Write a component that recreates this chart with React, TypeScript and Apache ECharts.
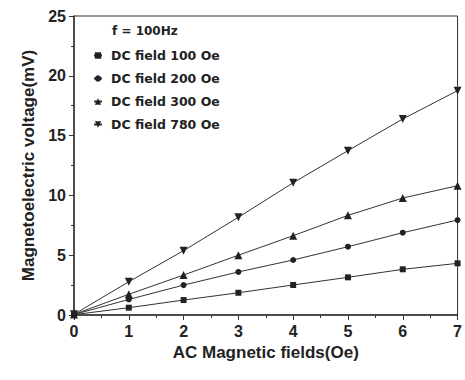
import React, { useEffect, useRef } from "react";
import * as echarts from "echarts";

const xValues = [0, 1, 2, 3, 4, 5, 6, 7];
const dc100 = [0.03, 0.61, 1.25, 1.86, 2.51, 3.15, 3.82, 4.32];
const dc200 = [0.04, 1.3, 2.5, 3.6, 4.6, 5.71, 6.88, 7.94];
const dc300 = [0.05, 1.73, 3.34, 5.0, 6.63, 8.33, 9.78, 10.81];
const dc780 = [0.06, 2.78, 5.38, 8.17, 11.06, 13.74, 16.39, 18.76];
const seriesNames = ["DC field 100 Oe", "DC field 200 Oe", "DC field 300 Oe", "DC field 780 Oe"];
const xTicks = [0, 1, 2, 3, 4, 5, 6, 7];
const yTicks = [0, 5, 10, 15, 20, 25];

const INK = "#222";
const FONT = "Liberation Sans, Arial, sans-serif";
const LEGEND_FONT = "DejaVu Sans, sans-serif";

export default function App() {
  const ref = useRef<HTMLDivElement>(null);
  useEffect(() => {
    if (!ref.current) return;
    const chart = echarts.init(ref.current, undefined, { renderer: "svg" });
    const pair = (ys: number[]) => xValues.map((x, i) => [x, ys[i]]);
    const mk = (name: string, ys: number[], symbol: string, size: number, rot = 0) => ({
      name,
      type: "line",
      data: pair(ys),
      symbol,
      symbolSize: size,
      symbolRotate: rot,
      showSymbol: true,
      lineStyle: { color: "#333", width: 1 },
      itemStyle: { color: INK, borderWidth: 0 },
      clip: true,
    });
    chart.setOption({
      animation: false,
      backgroundColor: "#fff",
      textStyle: { fontFamily: FONT },
      grid: { left: 74, right: 2, top: 16, bottom: 65, show: true, borderColor: "#333", borderWidth: 1 },
      graphic: [
        {
          type: "text",
          left: 112,
          top: 25,
          style: { text: "f = 100Hz", font: `bold 12px ${LEGEND_FONT}`, fill: INK },
        },
      ],
      legend: {
        orient: "vertical",
        left: 88,
        top: 44,
        itemWidth: 8,
        itemHeight: 8,
        itemGap: 10,
        textStyle: { fontSize: 12.5, fontWeight: "bold", color: INK, fontFamily: LEGEND_FONT, padding: [0, 0, 0, 4] },
        data: seriesNames,
      },
      xAxis: {
        type: "value",
        min: 0,
        max: 7,
        interval: 1,
        name: "AC Magnetic fields(Oe)",
        nameLocation: "middle",
        nameGap: 27,
        nameTextStyle: { fontSize: 17, fontWeight: "bold", color: INK },
        axisLine: { lineStyle: { color: "#333", width: 1.5 } },
        axisTick: { inside: false, length: 5, lineStyle: { color: "#333" } },
        minorTick: { show: true, splitNumber: 2, length: 3, lineStyle: { color: "#333" } },
        axisLabel: {
          fontSize: 16,
          fontWeight: "bold",
          color: INK,
          margin: 8,
          formatter: (v: number) => (xTicks.includes(v) ? String(v) : ""),
        },
        splitLine: { show: false },
      },
      yAxis: {
        type: "value",
        min: 0,
        max: 25,
        interval: 5,
        name: "Magnetoelectric voltage(mV)",
        nameLocation: "middle",
        nameGap: 37,
        nameTextStyle: { fontSize: 17, fontWeight: "bold", color: INK },
        axisLine: { lineStyle: { color: "#333", width: 1.5 } },
        axisTick: { inside: false, length: 5, lineStyle: { color: "#333" } },
        minorTick: { show: true, splitNumber: 2, length: 3, lineStyle: { color: "#333" } },
        axisLabel: {
          fontSize: 16,
          fontWeight: "bold",
          color: INK,
          margin: 8,
          formatter: (v: number) => (yTicks.includes(v) ? String(v) : ""),
        },
        splitLine: { show: false },
      },
      series: [
        mk(seriesNames[0], dc100, "rect", 6),
        mk(seriesNames[1], dc200, "circle", 6),
        mk(seriesNames[2], dc300, "triangle", 8),
        mk(seriesNames[3], dc780, "triangle", 8, 180),
      ],
    });
    return () => chart.dispose();
  }, []);
  return <div ref={ref} style={{ width: 465, height: 380, position: "absolute", left: 0, top: 0 }} />;
}
